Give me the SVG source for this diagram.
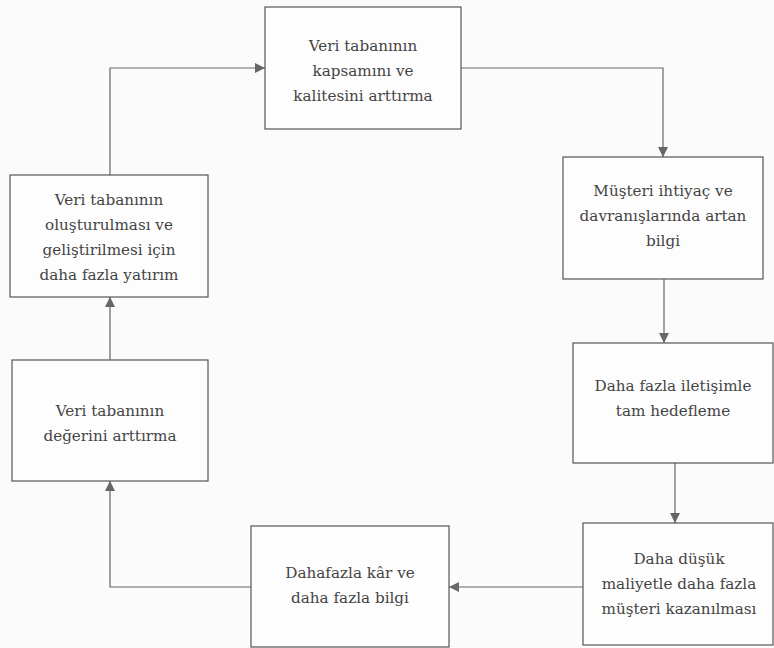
<svg xmlns="http://www.w3.org/2000/svg" width="774" height="648" viewBox="0 0 774 648">
<style>
.box{fill:#fdfdfd;stroke:#555;stroke-width:1.2}
.t{font-family:'DejaVu Serif',serif;font-size:15.2px;fill:#444;text-anchor:middle}
.c{fill:none;stroke:#666;stroke-width:1.2}
</style>
<defs>
<marker id="ah" viewBox="0 0 10 10" refX="10" refY="5" markerWidth="10" markerHeight="10" markerUnits="userSpaceOnUse" orient="auto">
<path d="M0,0 L10,5 L0,10 z" fill="#666"/>
</marker>
</defs>
<rect width="774" height="648" fill="#fbfbfb"/>
<g id="connectors">
<path class="c" d="M461,68 H663 V157" marker-end="url(#ah)"/>
<path class="c" d="M664,279 V343" marker-end="url(#ah)"/>
<path class="c" d="M675,463 V523" marker-end="url(#ah)"/>
<path class="c" d="M583,587 H449" marker-end="url(#ah)"/>
<path class="c" d="M251,587 H110 V481" marker-end="url(#ah)"/>
<path class="c" d="M110,360 V297" marker-end="url(#ah)"/>
<path class="c" d="M110,175 V68 H265" marker-end="url(#ah)"/>
</g>
<g id="n1">
<rect class="box" x="265" y="7" width="196" height="122"/>
<text class="t" x="363" y="51">Veri tabanının</text>
<text class="t" x="363" y="76">kapsamını ve</text>
<text class="t" x="363" y="101">kalitesini arttırma</text>
</g>
<g id="n2">
<rect class="box" x="563" y="157" width="200" height="122"/>
<text class="t" x="663" y="196">Müşteri ihtiyaç ve</text>
<text class="t" x="663" y="221">davranışlarında artan</text>
<text class="t" x="663" y="246">bilgi</text>
</g>
<g id="n3">
<rect class="box" x="573" y="343" width="200" height="120"/>
<text class="t" x="673" y="391">Daha fazla iletişimle</text>
<text class="t" x="673" y="416">tam hedefleme</text>
</g>
<g id="n4">
<rect class="box" x="583" y="523" width="190" height="122"/>
<text class="t" x="679" y="564">Daha düşük</text>
<text class="t" x="679" y="589">maliyetle daha fazla</text>
<text class="t" x="679" y="614">müşteri kazanılması</text>
</g>
<g id="n5">
<rect class="box" x="251" y="526" width="198" height="121"/>
<text class="t" x="350" y="578">Dahafazla kâr ve</text>
<text class="t" x="350" y="603">daha fazla bilgi</text>
</g>
<g id="n6">
<rect class="box" x="12" y="360" width="196" height="121"/>
<text class="t" x="110" y="416">Veri tabanının</text>
<text class="t" x="110" y="441">değerini arttırma</text>
</g>
<g id="n7">
<rect class="box" x="10" y="175" width="198" height="122"/>
<text class="t" x="109" y="205">Veri tabanının</text>
<text class="t" x="109" y="230">oluşturulması ve</text>
<text class="t" x="109" y="255">geliştirilmesi için</text>
<text class="t" x="109" y="280">daha fazla yatırım</text>
</g>
</svg>
